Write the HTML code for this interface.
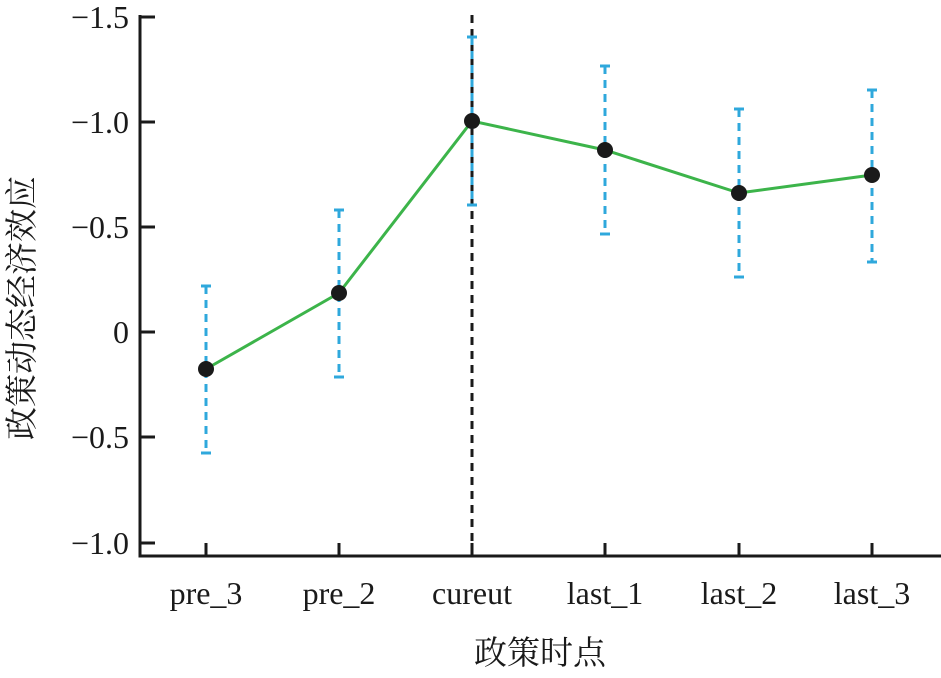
<!DOCTYPE html>
<html><head><meta charset="utf-8"><style>body{margin:0;background:#fff}</style></head><body>
<svg width="941" height="673" xmlns="http://www.w3.org/2000/svg" font-family="Liberation Serif, Noto Serif CJK SC, serif">
<g stroke="#1a1a1a" stroke-width="3" fill="none">
<path d="M140,15 V556 H941"/>
<path d="M140,17 h15 M140,122 h15 M140,227 h15 M140,332 h15 M140,437 h15 M140,543 h15"/>
<path d="M206,556 v-13 M339,556 v-13 M472,556 v-13 M605,556 v-13 M739,556 v-13 M872,556 v-13"/>
</g>
<line x1="472" y1="15" x2="472" y2="556" stroke="#1a1a1a" stroke-width="3" stroke-dasharray="8,6"/>
<g stroke="#2fa8dc" stroke-width="3" fill="none">
<g stroke-dasharray="8,6">
<path d="M206,286 V453 M339,210 V377 M472,37 V205 M605,66 V234 M739,109 V277 M872,90 V262"/>
</g>
<path d="M201,286h10 M201,453h10 M334,210h10 M334,377h10 M467,37h10 M467,205h10 M600,66h10 M600,234h10 M734,109h10 M734,277h10 M867,90h10 M867,262h10"/>
</g>
<polyline points="206,369 339,293 472,121 605,150 739,193 872,175" fill="none" stroke="#3cb44a" stroke-width="3"/>
<g fill="#1a1a1a">
<circle cx="206" cy="369" r="8"/><circle cx="339" cy="293" r="8"/><circle cx="472" cy="121" r="8"/>
<circle cx="605" cy="150" r="8"/><circle cx="739" cy="193" r="8"/><circle cx="872" cy="175" r="8"/>
</g>
<g font-size="32" fill="#1a1a1a" text-anchor="end">
<text x="129" y="28">−1.5</text><text x="129" y="133">−1.0</text><text x="129" y="238">−0.5</text>
<text x="129" y="343">0</text><text x="129" y="448">−0.5</text><text x="129" y="554">−1.0</text>
</g>
<g font-size="32" fill="#1a1a1a" text-anchor="middle">
<text x="206" y="604">pre_3</text><text x="339" y="604">pre_2</text><text x="472" y="604">cureut</text>
<text x="605" y="604">last_1</text><text x="739" y="604">last_2</text><text x="872" y="604">last_3</text>
</g>
<g font-size="33" fill="#1a1a1a" text-anchor="middle">
<text x="540" y="664">政策时点</text>
<text transform="translate(33,308) rotate(-90)">政策动态经济效应</text>
</g>
</svg>
</body></html>
